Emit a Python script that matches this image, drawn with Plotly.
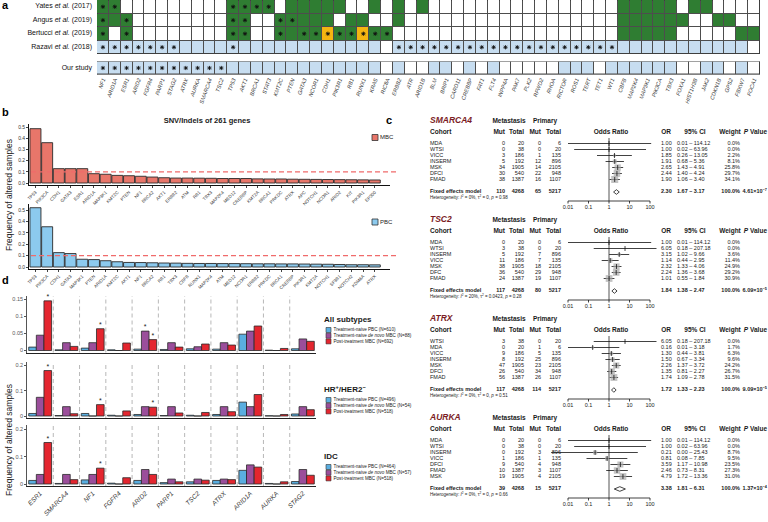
import math
import plotly.graph_objects as go

W, H = 768, 522
FONT = "Arial, 'Liberation Sans', sans-serif"

# ---------------- a: overview of published studies ----------------
genes_a = ["NF1", "ARID1A", "ESR1", "ARID2", "FGFR4", "PARP1", "STAG2", "ATRX", "AURKA", "SMARCA4", "TSC2",
           "TP53", "AKT1", "BRCA1", "STAT3", "KMT2C", "PTEN", "GATA3", "NCOR1", "CDH1", "PIK3R1", "RB1",
           "RUNX1", "KRAS", "RIC8A", "ERBB2", "ATR", "ARID1B", "BLM", "BRIP1", "CARD11", "CREBBP", "FAT1",
           "FLT4", "INPP4A", "PAK7", "PLK2", "RFWD2", "RHOA", "RICTOR", "ROS1", "TERT", "TET1", "WT1", "CBFB",
           "MAP2K4", "MAP3K1", "PIK3CA", "TBX3", "FOXA1", "HIST1H3B", "JAK2", "CDKN1B", "GPS2", "FBXW7", "FOCA1"]
study_labels = ["Yates <i>et al.</i> (2017)", "Angus <i>et al.</i> (2019)",
                "Bertucci <i>et al.</i> (2019)", "Razavi <i>et al.</i> (2018)"]
# w white, g green, y yellow, b light blue; capital = cell marked with an asterisk
yates_cells = ("GG" "wwwwwwwww" "GGGG" "w" "ggggg" "ww" "g" "w" "g" "w" "g"
               "wwwwwwwwwwwwwwww" "ggggg" "w" "gg" "wwww")
angus_cells = ("GgG" "wwwwwwww" "GG" "ww" "GG" "ggg" "w" "gg" "ww" "g"
               "wwwwwwwwwwwwwwwwww" "gggggg" "ww" "gg" "ww")
bertucci_cells = ("GwG" "wwwwwwww" "GG" "ww" "G" "g" "GG" "Y" "GG" "Y" "GG"
                  "wwwwwwwwwwwwwwwwwww" "ggggg" "wwwww" "gg")
razavi_cells = ("BBBBBBB" "bbbb" "B" "bbbbbbbbbbbb" "w" "BBBBBBBBBBBBBBBBBBB" "bbbbbbbbbbb" "w")
our_cells = ("BBBBBBBBBBB" "bbbbbbbbbbbbb" "w" "b" "ww" "bb" "w" "b" "w" "b" "wwwww" "bbb" "w"
             "bbbbbb" "ww" "bb" "w" "b" "w")

# ---------------- b: SNV/indel frequencies ----------------
genes_mbc = ["TP53", "PIK3CA", "CDH1", "GATA3", "ESR1", "ARID1A", "MAP3K1", "KMT2C", "PTEN", "NF1", "BRCA2",
             "AKT1", "ERBB2", "ATM", "RB1", "TBX3", "MAP2K4", "MED12", "CREBBP", "KMT2A", "BRCA1", "PRKDC",
             "ATRX", "APC", "NOTCH1", "NCOR1", "ARID2", "KIT", "PIK3R1", "EP300"]
freq_mbc = [0.485, 0.36, 0.128, 0.128, 0.128, 0.083, 0.078, 0.068, 0.065, 0.06, 0.053, 0.047, 0.044, 0.044,
            0.043, 0.042, 0.04, 0.04, 0.04, 0.037, 0.036, 0.036, 0.034, 0.033, 0.032, 0.031, 0.03, 0.029,
            0.028, 0.027]
genes_pbc = ["TP53", "PIK3CA", "CDH1", "GATA3", "MAP3K1", "PTEN", "ARID1A", "KMT2C", "AKT1", "NF1", "BRCA2",
             "RB1", "TBX3", "CBFB", "RUNX1", "MAP2K4", "ATM", "MED12", "NCOR1", "ERBB2", "PRKDC", "BRCA1",
             "CREBBP", "PIK3R1", "KMT2A", "NOTCH1", "SF3B1", "NOTCH2", "KDM6A", "ATRX"]
freq_pbc = [0.52, 0.353, 0.126, 0.118, 0.068, 0.065, 0.055, 0.046, 0.04, 0.039, 0.037, 0.035, 0.034, 0.032,
            0.031, 0.031, 0.03, 0.03, 0.029, 0.028, 0.028, 0.027, 0.027, 0.026, 0.025, 0.024, 0.022, 0.02,
            0.02, 0.019]

# ---------------- c: meta-analysis per gene ----------------
# cohort, met mut, met total, prim mut, prim total, OR, lower, upper, weight %
smarca4_rows = [("MDA", 0, 20, 0, 6, 1.00, 0.01, 114.12, 0.0),
                ("WTSI", 0, 38, 0, 20, 1.00, 0.02, 63.96, 0.0),
                ("VICC", 3, 186, 1, 135, 1.85, 0.26, 13.05, 2.2),
                ("INSERM", 5, 192, 12, 896, 1.91, 0.68, 5.36, 8.1),
                ("MSK", 34, 1905, 14, 2105, 2.65, 1.43, 4.91, 25.8),
                ("DFCI", 30, 540, 22, 948, 2.44, 1.40, 4.24, 29.7),
                ("FMAD", 38, 1387, 16, 1107, 1.90, 1.06, 3.40, 34.1)]
smarca4_fixed = (110, 4268, 65, 5217, 2.30, 1.67, 3.17, "4.61×10<sup>−7</sup>")
smarca4_het = ("0%", "0", "0.98")

tsc2_rows = [("MDA", 0, 20, 0, 6, 1.00, 0.01, 114.12, 0.0),
             ("WTSI", 3, 38, 0, 20, 6.05, 0.18, 207.18, 0.0),
             ("INSERM", 5, 192, 7, 896, 3.15, 1.02, 9.66, 3.6),
             ("VICC", 11, 186, 7, 135, 1.14, 0.44, 2.95, 11.4),
             ("MSK", 38, 1905, 18, 2105, 2.32, 1.33, 4.06, 24.9),
             ("DFC", 36, 540, 29, 948, 2.24, 1.36, 3.68, 29.2),
             ("FMAD", 24, 1387, 19, 1107, 1.01, 0.55, 1.84, 30.9)]
tsc2_fixed = (117, 4268, 80, 5217, 1.84, 1.38, 2.47, "6.09×10<sup>−5</sup>")
tsc2_het = ("20%", "0.0423", "0.28")

atrx_rows = [("WTSI", 3, 38, 0, 20, 6.05, 0.18, 207.18, 0.0),
             ("MDA", 0, 20, 1, 6, 0.16, 0.01, 3.18, 1.7),
             ("VICC", 9, 186, 5, 135, 1.30, 0.44, 3.81, 6.3),
             ("INSERM", 8, 192, 25, 896, 1.50, 0.67, 3.34, 9.6),
             ("MSK", 47, 1905, 23, 2105, 2.26, 1.37, 3.72, 24.2),
             ("DFCI", 26, 540, 34, 948, 1.35, 0.81, 2.27, 26.7),
             ("FMAD", 56, 1387, 26, 1107, 1.74, 1.09, 2.78, 31.5)]
atrx_fixed = (117, 4268, 114, 5217, 1.72, 1.33, 2.23, "9.09×10<sup>−5</sup>")
atrx_het = ("0%", "0", "0.51")

aurka_rows = [("MDA", 0, 20, 0, 6, 1.00, 0.01, 114.12, 0.0),
              ("WTSI", 0, 38, 0, 20, 1.00, 0.02, 63.96, 0.0),
              ("INSERM", 0, 192, 3, 896, 0.21, 0.00, 25.43, 8.7),
              ("VICC", 1, 186, 1, 135, 0.81, 0.08, 7.85, 9.5),
              ("DFCI", 9, 540, 4, 948, 3.59, 1.17, 10.98, 23.5),
              ("FMAD", 10, 1387, 3, 1107, 2.46, 0.73, 8.31, 27.3),
              ("MSK", 19, 1905, 4, 2105, 4.79, 1.72, 13.36, 31.0)]
aurka_fixed = (39, 4268, 15, 5217, 3.38, 1.81, 6.31, "1.37×10<sup>−4</sup>")
aurka_het = ("0%", "0", "0.66")

or_ticks = [0.01, 0.1, 1, 10, 100]

# ---------------- d: treatment groups ----------------
genes_d = ["ESR1", "SMARCA4", "NF1", "FGFR4", "ARID2", "PARP1", "TSC2", "ATRX", "ARID1A", "AURKA", "STAG2"]
group_names = ["Treatment-naive PBC", "Treatment-naive <i>de novo</i> MBC", "Post-treatment MBC"]
all_n = [610, 88, 692]
all_pbc = [0.01, 0.002, 0.007, 0.002, 0.004, 0.003, 0.005, 0.004, 0.048, 0.001, 0.005]
all_denovo = [0.045, 0.023, 0.023, 0.0, 0.057, 0.023, 0.011, 0.023, 0.057, 0.0, 0.034]
all_post = [0.146, 0.012, 0.064, 0.022, 0.032, 0.01, 0.019, 0.016, 0.072, 0.006, 0.027]
all_stars = [("ESR1", 2), ("NF1", 2), ("ARID2", 1), ("ARID2", 2)]
hr_n = [496, 54, 518]
hr_pbc = [0.01, 0.002, 0.01, 0.003, 0.006, 0.002, 0.003, 0.006, 0.055, 0.001, 0.008]
hr_denovo = [0.074, 0.037, 0.0, 0.0, 0.037, 0.037, 0.0, 0.037, 0.037, 0.0, 0.037]
hr_post = [0.18, 0.009, 0.045, 0.02, 0.035, 0.012, 0.014, 0.017, 0.085, 0.006, 0.025]
hr_stars = [("ESR1", 2), ("NF1", 2), ("ARID2", 2)]
idc_n = [464, 57, 518]
idc_pbc = [0.013, 0.002, 0.015, 0.003, 0.013, 0.005, 0.008, 0.013, 0.05, 0.002, 0.009]
idc_denovo = [0.035, 0.035, 0.035, 0.0, 0.053, 0.018, 0.018, 0.018, 0.07, 0.0, 0.053]
idc_post = [0.152, 0.016, 0.058, 0.023, 0.035, 0.008, 0.014, 0.016, 0.062, 0.008, 0.032]
idc_stars = [("ESR1", 2), ("NF1", 2)]


def fx(p):
    return p / W


def fy(p):
    return 1 - p / H


def ydomain(top, bottom):
    return [fy(bottom), fy(top)]


def yrange(px_zero, px_per_unit, top, bottom):
    return [-(bottom - px_zero) / px_per_unit, (px_zero - top) / px_per_unit]


fig = go.Figure()
shapes = []
annotations = []


def text(xs, ys, labels, pos, size, color="#1a1a1a", bold=False, italic=False, axes=("x9", "y9")):
    labels = list(labels)
    if italic:
        labels = [f"<i>{t}</i>" for t in labels]
    if bold:
        labels = [f"<b>{t}</b>" for t in labels]
    fig.add_trace(go.Scatter(x=list(xs), y=list(ys), text=labels, mode="text", textposition=pos,
                             textfont=dict(size=size, color=color, family=FONT), marker=dict(color=color),
                             xaxis=axes[0], yaxis=axes[1], hoverinfo="skip", cliponaxis=False))


# ---- panel a ----
GREEN, YEL, LBLUE = "#2F7D32", "#F5B511", "#C7DDF0"
code_val = {"w": 0, "g": 1, "y": 2, "b": 3}
cell_scale = [[0, "#FFFFFF"], [0.25, "#FFFFFF"], [0.25, GREEN], [0.5, GREEN],
              [0.5, YEL], [0.75, YEL], [0.75, LBLUE], [1, LBLUE]]
for rows, xa, ya in [([yates_cells, angus_cells, bertucci_cells, razavi_cells], "x", "y"),
                     ([our_cells], "x2", "y2")]:
    z = [[code_val[c.lower()] for c in r] for r in rows]
    fig.add_trace(go.Heatmap(z=z, x=list(range(len(genes_a))), y=list(range(len(rows))),
                             zmin=-0.5, zmax=3.5, colorscale=cell_scale, showscale=False,
                             xgap=1, ygap=1, hoverinfo="skip", xaxis=xa, yaxis=ya))
    sx = [j for i, r in enumerate(rows) for j, c in enumerate(r) if c.isupper()]
    sy = [i for i, r in enumerate(rows) for j, c in enumerate(r) if c.isupper()]
    fig.add_trace(go.Scatter(x=sx, y=sy, mode="markers", hoverinfo="skip",
                             marker=dict(symbol="asterisk-open", size=3.5, color="#111",
                                         line=dict(width=0.9, color="#111")),
                             xaxis=xa, yaxis=ya))
    shapes.append(dict(type="rect", xref=xa, yref=ya, x0=-0.5, x1=len(genes_a) - 0.5, y0=-0.5,
                       y1=len(rows) - 0.5, fillcolor="#4d4d4d", line=dict(color="#333", width=1),
                       layer="below"))

text([92] * 4, [6.7 + 13.5 * i for i in range(4)], study_labels, "middle left", 7, color="#111")
text([92], [68], ["Our study"], "middle left", 7, color="#111")

# ---- panel b ----
MBC_C, PBC_C = "#E8766A", "#8CCAEE"
fig.add_trace(go.Bar(x=list(range(len(genes_mbc))), y=freq_mbc, width=0.94,
                     marker=dict(color=MBC_C, line=dict(color="#2a2a2a", width=0.9)),
                     xaxis="x3", yaxis="y3", hoverinfo="skip"))
fig.add_trace(go.Bar(x=list(range(len(genes_pbc))), y=freq_pbc, width=0.94,
                     marker=dict(color=PBC_C, line=dict(color="#2a2a2a", width=0.9)),
                     xaxis="x4", yaxis="y4", hoverinfo="skip"))
for ya in ["y3", "y4"]:
    shapes.append(dict(type="line", xref="paper", yref=ya, x0=fx(31), x1=fx(397), y0=0.1, y1=0.1,
                       line=dict(color="#F06B6B", width=1.2, dash="5px,3px")))
for yc, lab, col in [(137.5, "MBC", MBC_C), (222, "PBC", PBC_C)]:
    shapes.append(dict(type="rect", xref="paper", yref="paper", x0=fx(372), x1=fx(378),
                       y0=fy(yc + 3), y1=fy(yc - 3), fillcolor=col, line=dict(color="#333", width=0.8)))
    text([380], [yc], [lab], "middle right", 6)
text([207], [121], ["SNV/Indels of 261 genes"], "middle center", 7.5, bold=True)

# ---- panel c ----
FX0, FDEC = 568.0, 20.5      # px position of OR = 0.01 and px per decade
FDOM = (535.0, 700.0)
f_r0 = -2 - (FX0 - FDOM[0]) / FDEC
f_r1 = f_r0 + (FDOM[1] - FDOM[0]) / FDEC


def draw_forest(gene, rows, fixed, het, y0):
    text([430], [y0], [gene], "middle right", 8.5, color="#7B1C24", bold=True, italic=True)
    text([509, 545], [y0, y0], ["Metastasis", "Primary"], "middle center", 6.5, bold=True)
    yh = y0 + 11
    text([430], [yh], ["Cohort"], "middle right", 6.5, bold=True)
    text([505, 524, 541, 561], [yh] * 4, ["Mut", "Total", "Mut", "Total"], "middle left", 6.5, bold=True)
    text([611, 666, 695, 730], [yh] * 4, ["Odds Ratio", "OR", "95% CI", "Weight"],
         "middle center", 6.5, bold=True)
    text([767], [yh], ["<i>P</i> Value"], "middle left", 6.5, bold=True)
    names, mm, mt, pm, pt, orr, lo, hi, wt = zip(*rows)
    n = len(rows)
    ys = [y0 + 22.5 + 6 * i for i in range(n)]
    yf = y0 + 71
    text([430] * n, ys, names, "middle right", 5.5)
    text([430], [yf], ["Fixed effects model"], "middle right", 5.5, bold=True)
    for xc, col, fv in zip([505, 524, 541, 561], [mm, mt, pm, pt], fixed[:4]):
        text([xc] * (n + 1), ys + [yf], [str(v) for v in col] + [f"<b>{fv}</b>"], "middle left", 5.5)
    text([661] * (n + 1), ys + [yf], [f"{v:.2f}" for v in orr] + [f"<b>{fixed[4]:.2f}</b>"],
         "middle right", 5.5)
    text([677] * (n + 1), ys + [yf],
         [f"{a:.2f} – {b:.2f}" for a, b in zip(lo, hi)] + [f"<b>{fixed[5]:.2f} – {fixed[6]:.2f}</b>"],
         "middle right", 5.5)
    text([740] * (n + 1), ys + [yf], [f"{w:.1f}%" for w in wt] + ["<b>100.0%</b>"], "middle left", 5.5)
    text([767], [yf], [fixed[7]], "middle left", 5.5, bold=True)
    text([430], [y0 + 77], [f"Heterogeneity: <i>I</i><sup>2</sup> = {het[0]}, τ<sup>2</sup> = {het[1]}, "
                            f"<i>p</i> = {het[2]}"], "middle right", 4.5)

    ya = y0 + 80
    fig.add_trace(go.Scatter(x=[1, 1], y=[y0 + 17, ya], mode="lines", line=dict(color="#555", width=1),
                             xaxis="x8", yaxis="y8", hoverinfo="skip"))
    cx, cy = [], []
    for a, b, y in zip(lo, hi, ys):
        cx += [max(a, 0.0015), b, None]
        cy += [y, y, None]
    fig.add_trace(go.Scatter(x=cx, y=cy, mode="lines", line=dict(color="#111", width=0.8),
                             xaxis="x8", yaxis="y8", hoverinfo="skip"))
    sq = [(o, y, w) for o, y, w in zip(orr, ys, wt) if w > 0]
    fig.add_trace(go.Scatter(x=[s[0] for s in sq], y=[s[1] for s in sq], mode="markers",
                             marker=dict(symbol="square", color="#A9A9A9", size=[1.2 + math.sqrt(s[2]) for s in sq],
                                         line=dict(width=0)),
                             xaxis="x8", yaxis="y8", hoverinfo="skip"))
    fig.add_trace(go.Scatter(x=list(orr), y=ys, mode="markers",
                             marker=dict(symbol="line-ns-open", size=3.5, color="#111",
                                         line=dict(color="#111", width=0.8)),
                             xaxis="x8", yaxis="y8", hoverinfo="skip"))
    est, flo, fhi = fixed[4], fixed[5], fixed[6]
    fig.add_trace(go.Scatter(x=[flo, est, fhi, est, flo], y=[yf, yf - 2.3, yf, yf + 2.3, yf], mode="lines",
                             fill="toself", fillcolor="white", line=dict(color="#111", width=0.8),
                             xaxis="x8", yaxis="y8", hoverinfo="skip"))
    tx, ty = [or_ticks[0], or_ticks[-1], None], [ya, ya, None]
    for t in or_ticks:
        tx += [t, t, None]
        ty += [ya, ya + 2.5, None]
    fig.add_trace(go.Scatter(x=tx, y=ty, mode="lines", line=dict(color="#111", width=0.8),
                             xaxis="x8", yaxis="y8", hoverinfo="skip"))
    text(or_ticks, [ya + 7] * len(or_ticks), [f"{t:g}" for t in or_ticks], "middle center", 5.5,
         axes=("x8", "y8"))


blocks = [("SMARCA4", smarca4_rows, smarca4_fixed, smarca4_het),
          ("TSC2", tsc2_rows, tsc2_fixed, tsc2_het),
          ("ATRX", atrx_rows, atrx_fixed, atrx_het),
          ("AURKA", aurka_rows, aurka_fixed, aurka_het)]
for k, (g, r, f, h) in enumerate(blocks):
    draw_forest(g, r, f, h, 121 + 99.0 * k)

# ---- panel d ----
D_COLORS = ["#5AAEE0", "#9B4E9B", "#E4262F"]
offsets = [-0.435, -0.145, 0.145]
charts = [("x5", "y5", [all_pbc, all_denovo, all_post], all_stars, "All subtypes", all_n, 320),
          ("x6", "y6", [hr_pbc, hr_denovo, hr_post], hr_stars, "HR<sup>+</sup>/HER2<sup>−</sup>", hr_n, 390),
          ("x7", "y7", [idc_pbc, idc_denovo, idc_post], idc_stars, "IDC", idc_n, 457)]
for xa, ya, series, stars, title, ns, ty in charts:
    for s, vals in enumerate(series):
        fig.add_trace(go.Bar(x=list(range(len(genes_d))), y=vals, width=0.29, offset=offsets[s],
                             marker=dict(color=D_COLORS[s], line=dict(color="#2a2a2a", width=0.8)),
                             xaxis=xa, yaxis=ya, hoverinfo="skip"))
    text([genes_d.index(g) + offsets[s] + 0.145 for g, s in stars], [series[s][genes_d.index(g)] for g, s in stars],
         ["*"] * len(stars), "top center", 7, axes=(xa, ya))
    for k in range(len(genes_d) - 1):
        shapes.append(dict(type="line", xref=xa, yref=f"{ya} domain", x0=k + 0.5, x1=k + 0.5, y0=0, y1=1,
                           line=dict(color="#B0B0B0", width=0.9, dash="4px,3px"), layer="below"))
    text([324], [ty], [title], "middle right", 8, bold=True)
    for s in range(3):
        yy = ty + 10 + 5.7 * s
        shapes.append(dict(type="rect", xref="paper", yref="paper", x0=fx(326), x1=fx(331),
                           y0=fy(yy + 2.5), y1=fy(yy - 2.5), fillcolor=D_COLORS[s],
                           line=dict(color="#333", width=0.6)))
        text([333.5], [yy], [f"{group_names[s]} (N={ns[s]})"], "middle right", 4.6)

# panel letters and axis titles
for lab, x, y in [("a", 2, 6), ("b", 2, 113), ("c", 386, 121), ("d", 2, 281)]:
    text([x], [y], [lab], "middle right", 11, color="#000", bold=True)
for yc in [195, 440]:
    annotations.append(dict(x=fx(9), y=fy(yc), xref="paper", yref="paper", xanchor="center", yanchor="middle",
                            text="Frequency of altered samples", textangle=-90, showarrow=False,
                            font=dict(size=8.5, color="#222", family=FONT)))

hidden = dict(visible=False, showgrid=False, zeroline=False)
bar_x = dict(showgrid=False, zeroline=False, showline=True, linecolor="#111", linewidth=1,
             ticks="outside", ticklen=2, tickwidth=0.6, tickangle=-45, tickfont=dict(size=4.5, color="#333"))
bar_y = dict(showgrid=False, zeroline=False, showline=True, linecolor="#111", linewidth=0.8,
             ticks="outside", ticklen=2, tickwidth=0.6, tickfont=dict(size=5, color="#333"))
d_x = dict(showgrid=False, zeroline=False, showline=True, linecolor="#222", linewidth=1.3,
           range=[-0.5, len(genes_d) - 0.5], domain=[fx(27), fx(316)], ticks="")
d_y = dict(showgrid=False, zeroline=False, showline=True, linecolor="#555", linewidth=0.7,
           ticks="outside", ticklen=2, tickwidth=0.6, tickcolor="#555", tickfont=dict(size=5.5, color="#555"))
ticks_b = [0, 0.1, 0.2, 0.3, 0.4, 0.5]

fig.update_layout(
    template="none",
    width=W, height=H, margin=dict(l=0, r=0, t=0, b=0), autosize=False, showlegend=False,
    paper_bgcolor="white", plot_bgcolor="rgba(0,0,0,0)", font=dict(family=FONT, color="#111"),
    xaxis=dict(domain=[fx(97), fx(760)], range=[-0.5, len(genes_a) - 0.5], anchor="y", **hidden),
    yaxis=dict(domain=ydomain(0, 54), range=[3.5, -0.5], anchor="x", **hidden),
    xaxis2=dict(domain=[fx(97), fx(760)], range=[-0.5, len(genes_a) - 0.5], anchor="y2",
                tickmode="array", tickvals=list(range(len(genes_a))),
                ticktext=[f"<i>{g}</i>" for g in genes_a], tickangle=-70,
                tickfont=dict(size=5.5, color="#333"), showgrid=False, zeroline=False, showline=False, ticks=""),
    yaxis2=dict(domain=ydomain(61.5, 74.5), range=[0.5, -0.5], anchor="x2", **hidden),
    xaxis3=dict(domain=[fx(29), fx(390)], range=[-0.55, 30.3], anchor="y3", tickmode="array",
                tickvals=list(range(len(genes_mbc))), ticktext=genes_mbc, **bar_x),
    yaxis3=dict(domain=ydomain(124, 185), range=yrange(183, 112, 124, 185), anchor="x3",
                tickvals=ticks_b, ticktext=[f"{t:.1f}" for t in ticks_b], **bar_y),
    xaxis4=dict(domain=[fx(29), fx(390)], range=[-0.55, 30.3], anchor="y4", tickmode="array",
                tickvals=list(range(len(genes_pbc))), ticktext=genes_pbc, **bar_x),
    yaxis4=dict(domain=ydomain(204, 269), range=yrange(267, 114, 204, 269), anchor="x4",
                tickvals=ticks_b, ticktext=[f"{t:.1f}" for t in ticks_b], **bar_y),
    xaxis5=dict(anchor="y5", showticklabels=False, **d_x),
    yaxis5=dict(domain=ydomain(296, 352.5), range=yrange(350.5, 340, 296, 352.5), anchor="x5",
                tickvals=[0, 0.05, 0.1, 0.15], ticktext=["0", "0.05", "0.1", "0.15"], **d_y),
    xaxis6=dict(anchor="y6", showticklabels=False, **d_x),
    yaxis6=dict(domain=ydomain(362, 418), range=yrange(416, 252.5, 362, 418), anchor="x6",
                tickvals=[0, 0.1, 0.2], ticktext=["0", "0.1", "0.2"], **d_y),
    xaxis7=dict(anchor="y7", tickmode="array", tickvals=list(range(len(genes_d))),
                ticktext=[f"<i>{g}</i>" for g in genes_d], tickangle=-45,
                tickfont=dict(size=6.5, color="#333"), **d_x),
    yaxis7=dict(domain=ydomain(425, 486), range=yrange(484, 273, 425, 486), anchor="x7",
                tickvals=[0, 0.1, 0.2], ticktext=["0", "0.1", "0.2"], **d_y),
    xaxis8=dict(domain=[fx(FDOM[0]), fx(FDOM[1])], type="log", range=[f_r0, f_r1], anchor="y8", **hidden),
    yaxis8=dict(domain=[0, 1], range=[H, 0], anchor="x8", **hidden),
    xaxis9=dict(domain=[0, 1], range=[0, W], anchor="y9", **hidden),
    yaxis9=dict(domain=[0, 1], range=[H, 0], anchor="x9", **hidden),
    shapes=shapes, annotations=annotations,
)

# the page body has a default 8px margin; remove it so the figure sits at the window origin
fig.write_html("out.html", config={"displayModeBar": False},
               post_script="document.body.style.margin='0';")
